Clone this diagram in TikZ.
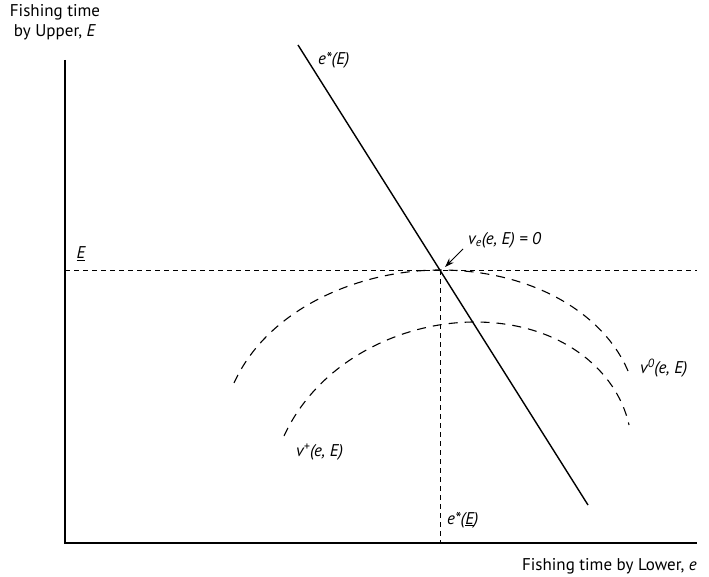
\documentclass[tikz,border=0pt]{standalone}
\usepackage{fontspec}
\setmainfont{PT Sans}
\usetikzlibrary{arrows.meta}
\begin{document}
\begin{tikzpicture}[x=1pt,y=-1pt,
  lbl/.style={font=\fontsize{17}{20}\selectfont, inner sep=0pt},
  axisline/.style={line width=1.1pt},
  guide/.style={dash pattern=on 5pt off 4pt, line width=0.8pt},
  curve/.style={dash pattern=on 9pt off 7pt, line width=1.1pt},
  eline/.style={line width=1.4pt}]
\useasboundingbox (0,0) rectangle (709,577);
% axes
\coordinate (O) at (65,543);
\coordinate (ytop) at (65,60);
\coordinate (xend) at (697,543);
\draw[axisline] (ytop) -- (O) -- (xend);
% axis labels
\node[lbl, align=center] (ylab) at (55,22) {Fishing time\\by Upper, \textit{E}};
\node[lbl, anchor=east] (xlab) at (697,566) {Fishing time by Lower, \textit{e}};
% guides
\coordinate (Eleft) at (65,270);
\coordinate (Eright) at (697,270);
\coordinate (P) at (440,270);
\coordinate (Pbot) at (440,543);
\draw[guide] (Eleft) -- (Eright);
\draw[guide] (P) -- (Pbot);
\node[lbl] (Elab) at (81,254) {\textit{\underline{E}}};
% e*(E) line
\coordinate (L1) at (298,45);
\coordinate (L2) at (588,505);
\draw[eline] (L1) -- (L2);
\node[lbl, anchor=west] (estar) at (318,60) {\textit{e*(E)}};
\node[lbl, anchor=west] (estarb) at (447,520) {\textit{e*(\underline{E})}};
% curves
\coordinate (U1) at (234,383);
\coordinate (U2) at (628,371);
\coordinate (D1) at (284,436);
\coordinate (Dtop) at (475,322);
\coordinate (D2) at (629,425);
\draw[curve] (U1) .. controls (268,308) and (360,270) .. (P)
             .. controls (530,270) and (603,312) .. (U2);
\draw[curve] (D1) .. controls (318,362) and (400,322) .. (Dtop)
             .. controls (560,322) and (617,370) .. (D2);
\node[lbl, anchor=west] (v0) at (640,368) {\textit{v\textsuperscript{0}(e, E)}};
\node[lbl, anchor=west] (vplus) at (296,452) {\textit{v\textsuperscript{+}(e, E)}};
% annotation
\node[lbl, anchor=west] (ve) at (468,240) {\textit{v\textsubscript{e}(e, E) = 0}};
\coordinate (atail) at (463,249);
\coordinate (ahead) at (445,267);
\draw[-{Stealth[length=9pt,width=6pt]}, line width=0.9pt] (atail) -- (ahead);
\end{tikzpicture}
\end{document}
